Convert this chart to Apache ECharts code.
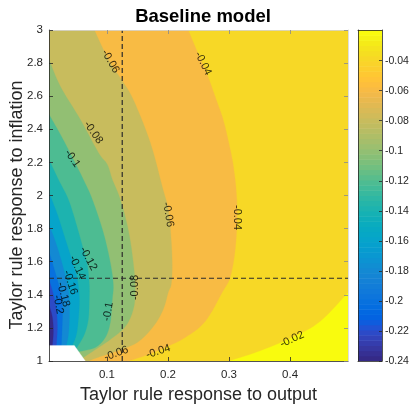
<!DOCTYPE html>
<html><head><meta charset="utf-8">
<script src="https://cdn.jsdelivr.net/npm/echarts@6/dist/echarts.min.js"></script>
<style>html,body{margin:0;padding:0;background:#fff}#c{width:410px;height:404px}</style>
</head><body><div id="c"></div>
<script>
// ---------- data ----------
const xRange = [0.005, 0.495];
const yRange = [1, 3];
const xTicks = [0.1, 0.2, 0.3, 0.4];
const yTicks = [1, 1.2, 1.4, 1.6, 1.8, 2, 2.2, 2.4, 2.6, 2.8, 3];
const cRange = [-0.24, -0.0196];
const cTicks = [-0.24, -0.22, -0.2, -0.18, -0.16, -0.14, -0.12, -0.1, -0.08, -0.06, -0.04];
const levels = [-0.02, -0.04, -0.06, -0.08, -0.1, -0.12, -0.14, -0.16, -0.18, -0.2, -0.22];

const c002 = [[0.2985,1.0],[0.343,1.051],[0.4033,1.142],[0.4491,1.239],[0.495,1.414]];
const c004 = [[0.2331,3.0],[0.2478,2.870],[0.2642,2.731],[0.2789,2.580],[0.2903,2.459],[0.3002,2.308],[0.3067,2.187],[0.3116,2.036],[0.3133,1.873],[0.3100,1.670],[0.3018,1.505],[0.2887,1.414],[0.2609,1.239],[0.2281,1.142],[0.1954,1.082],[0.1627,1.033],[0.1349,1.0]];
const c006 = [[0.0792,3.0],[0.1021,2.822],[0.1234,2.701],[0.1430,2.580],[0.1709,2.320],[0.1905,2.054],[0.2003,1.915],[0.2052,1.731],[0.2069,1.571],[0.2052,1.462],[0.2003,1.414],[0.1921,1.311],[0.1758,1.208],[0.1496,1.112],[0.1136,1.057],[0.0890,1.027],[0.0694,1.0]];
const c008 = [[0.005,2.822],[0.0236,2.659],[0.0563,2.459],[0.0858,2.260],[0.1005,2.187],[0.1087,2.097],[0.1218,1.976],[0.1349,1.792],[0.1430,1.595],[0.1463,1.432],[0.1430,1.311],[0.1300,1.208],[0.1054,1.130],[0.0809,1.069],[0.0612,1.021]];
const c010 = [[0.005,2.489],[0.0236,2.369],[0.0432,2.230],[0.0612,2.097],[0.0759,1.976],[0.0939,1.777],[0.1054,1.595],[0.1103,1.462],[0.1087,1.372],[0.1054,1.233],[0.0972,1.142],[0.0809,1.082],[0.0547,1.057]];
const c012 = [[0.005,2.218],[0.0203,2.097],[0.0367,1.976],[0.0498,1.825],[0.0612,1.674],[0.0678,1.583],[0.0710,1.462],[0.0710,1.372],[0.0694,1.251],[0.0628,1.160],[0.0498,1.076]];
const c014 = [[0.005,2.017],[0.0187,1.885],[0.0318,1.734],[0.0432,1.601],[0.0514,1.492],[0.0547,1.372],[0.0530,1.251],[0.0498,1.160],[0.0432,1.094]];
const c016 = [[0.005,1.825],[0.0170,1.704],[0.0268,1.583],[0.0350,1.462],[0.0383,1.372],[0.0383,1.251],[0.0367,1.160],[0.0334,1.094]];
const c018 = [[0.005,1.659],[0.0137,1.553],[0.0219,1.444],[0.0268,1.341],[0.0268,1.239],[0.0252,1.094]];
const c020 = [[0.005,1.492],[0.0121,1.402],[0.0170,1.311],[0.0187,1.202],[0.0170,1.094]];
const c022 = [[0.005,1.341],[0.0105,1.263],[0.0121,1.178],[0.0105,1.094]];
const contours = [c002, c004, c006, c008, c010, c012, c014, c016, c018, c020, c022];

const nanRegion = [[0.005,1.094],[0.0465,1.094],[0.0645,1.0],[0.005,1.0]];
const refX = 0.125;
const refY = 1.5;

const labelTexts = ['-0.06','-0.04','-0.08','-0.1','-0.06','-0.04','-0.12','-0.14','-0.16','-0.18','-0.2','-0.08','-0.1','-0.06','-0.04','-0.02'];
const labelX = [0.1056,0.2576,0.0776,0.0432,0.2003,0.3133,0.0694,0.0514,0.0399,0.0285,0.0203,0.1463,0.1021,0.1152,0.1839,0.4033];
const labelY = [2.810,2.798,2.380,2.224,1.885,1.867,1.619,1.565,1.474,1.402,1.341,1.444,1.299,1.045,1.057,1.130];

// ---------- style ----------
const labelRot = [-60,-63,-55,-55,-80,-90,-62,-65,-72,-75,-80,90,80,20,18,25];
const parula = ['#352A87','#363093','#3637A0','#353DAD','#3243BA','#2C4AC7','#2053D4','#0F5CDD','#0363E1','#0268E1','#046DE0','#0871DE','#0D75DC','#1079DA','#127DD8','#1481D6','#1485D4','#1389D3','#108ED2','#0C93D2','#0998D1','#079CCF','#06A0CD','#06A4CA','#06A7C6','#07A9C2','#0AACBE','#0FAEB9','#15B1B4','#1DB3AF','#25B5A9','#2EB7A4','#38B99E','#42BB98','#4DBC92','#59BD8C','#65BE86','#71BF80','#7CBF7B','#87BF77','#92BF73','#9CBF6F','#A5BE6B','#AEBE67','#B7BD64','#C0BC60','#C8BC5D','#D1BB59','#D9BA56','#E1B952','#E9B94E','#F1B94A','#F8BB44','#FDBE3D','#FFC337','#FEC832','#FCCE2E','#FAD32A','#F7D826','#F5DE21','#F5E41D','#F5EB18','#F6F313','#F9FB0E'];
const FONT = '"Liberation Sans", Arial, Helvetica, sans-serif';
const TXT = '#262626';

function colorOf(v) {
  const t = (v - cRange[0]) / (cRange[1] - cRange[0]);
  let i = Math.floor(t * parula.length + 1e-9);
  i = Math.max(0, Math.min(parula.length - 1, i));
  return parula[i];
}
const near = (a, b) => Math.abs(a - b) < 1e-6;

// smooth a polyline (pixel space) with Catmull-Rom for drawing only
function smoothPx(p) {
  if (p.length < 3) return p;
  const out = [];
  for (let i = 0; i < p.length - 1; i++) {
    const p0 = p[Math.max(0, i - 1)], p1 = p[i], p2 = p[i + 1], p3 = p[Math.min(p.length - 1, i + 2)];
    for (let s = 0; s < 8; s++) {
      const t = s / 8, t2 = t * t, t3 = t2 * t;
      out.push([0, 1].map(d => 0.5 * ((2 * p1[d]) + (-p0[d] + p2[d]) * t + (2 * p0[d] - 5 * p1[d] + 4 * p2[d] - p3[d]) * t2 + (-p0[d] + 3 * p1[d] - 3 * p2[d] + p3[d]) * t3)));
    }
  }
  out.push(p[p.length - 1]);
  return out;
}

function regionPixels(k, api) {
  if (k < 0) return [[xRange[0], yRange[0]], [xRange[1], yRange[0]], [xRange[1], yRange[1]], [xRange[0], yRange[1]]].map(p => api.coord(p));
  const c = contours[k];
  const first = c[0], last = c[c.length - 1];
  const pts = smoothPx(c.map(p => api.coord(p)));
  const tail = [];
  if (near(last[0], xRange[1])) {
    tail.push([xRange[1], yRange[1]], [xRange[0], yRange[1]], [xRange[0], yRange[0]]);
  } else {
    tail.push([xRange[0], yRange[0]]);
    if (near(first[1], yRange[1])) tail.push([xRange[0], yRange[1]]);
  }
  return pts.concat(tail.map(p => api.coord(p)));
}
function fillColor(k) {
  if (k < 0) return colorOf(levels[0]);
  return colorOf(levels[k] - 0.02);
}

const fillData = [{ value: [xRange[0], yRange[0], -1] }].concat(levels.map((l, k) => ({ value: [xRange[0], yRange[0], k] })));
fillData.push({ value: [xRange[0], yRange[0], 99] });

const labelData = labelTexts.map((t, i) => ({
  value: [labelX[i], labelY[i]],
  label: { rotate: labelRot[i], formatter: t }
}));

const cbData = parula.map((c, i) => ({ value: [0, cRange[0] + i * (cRange[1] - cRange[0]) / parula.length, i] }));

const chart = echarts.init(document.getElementById('c'), null, { renderer: 'canvas' });
chart.setOption({
  animation: false,
  backgroundColor: '#fff',
  textStyle: { fontFamily: FONT },
  title: {
    text: 'Baseline model', left: 198, top: 2, textAlign: 'center',
    textStyle: { fontFamily: FONT, fontSize: 18.5, fontWeight: 'bold', color: '#000' }
  },
  graphic: [{
    type: 'text', x: 17, y: 205, rotation: Math.PI / 2, silent: true,
    style: { text: 'Taylor rule response to inflation', fontFamily: FONT, fontSize: 18, fill: TXT, align: 'center', verticalAlign: 'middle' }
  }],
  grid: [
    { left: 49, right: 62, top: 30, bottom: 43, containLabel: false, outerBoundsMode: 'none' },
    { left: 358, width: 24, top: 30, bottom: 43, containLabel: false, outerBoundsMode: 'none' }
  ],
  xAxis: [
    {
      type: 'value', gridIndex: 0, min: xRange[0], max: xRange[1], z: 5,
      name: 'Taylor rule response to output', nameLocation: 'middle', nameGap: 22,
      nameTextStyle: { fontFamily: FONT, fontSize: 18, color: TXT },
      axisLine: { show: true, onZero: false, lineStyle: { color: TXT, width: 0.8 } },
      axisTick: { show: true, inside: true, length: 4, customValues: xTicks, lineStyle: { color: TXT, width: 0.8 } },
      axisLabel: { customValues: xTicks, fontSize: 11.5, color: TXT, margin: 8, fontFamily: FONT,
        formatter: v => (xTicks.some(t => near(t, v)) ? String(+(+v).toFixed(3)) : '') },
      splitLine: { show: false }
    },
    {
      type: 'value', gridIndex: 0, position: 'top', min: xRange[0], max: xRange[1], z: 5,
      axisLine: { show: true, onZero: false, lineStyle: { color: '#d4d4d4', width: 0.8 } },
      axisTick: { show: true, inside: true, length: 4, customValues: xTicks, lineStyle: { color: '#8a8a8a', width: 0.8 } },
      axisLabel: { show: false }, splitLine: { show: false }
    },
    {
      type: 'value', gridIndex: 1, min: 0, max: 1, z: 5,
      axisLine: { show: true, onZero: false, lineStyle: { color: TXT, width: 0.8 } },
      axisTick: { show: false }, axisLabel: { show: false }, splitLine: { show: false }
    },
    {
      type: 'value', gridIndex: 1, position: 'top', min: 0, max: 1, z: 5,
      axisLine: { show: true, onZero: false, lineStyle: { color: TXT, width: 0.8 } },
      axisTick: { show: false }, axisLabel: { show: false }, splitLine: { show: false }
    }
  ],
  yAxis: [
    {
      type: 'value', gridIndex: 0, min: yRange[0], max: yRange[1], interval: 0.2, z: 5,
      axisLine: { show: true, onZero: false, lineStyle: { color: TXT, width: 0.8 } },
      axisTick: { show: true, inside: true, length: 4, customValues: yTicks, lineStyle: { color: TXT, width: 0.8 } },
      axisLabel: { customValues: yTicks, fontSize: 11.5, color: TXT, margin: 6, fontFamily: FONT,
        formatter: v => String(+(+v).toFixed(3)) },
      splitLine: { show: false }
    },
    {
      type: 'value', gridIndex: 0, position: 'right', min: yRange[0], max: yRange[1], interval: 0.2, z: 5,
      axisLine: { show: true, onZero: false, lineStyle: { color: '#d4d4d4', width: 0.8 } },
      axisTick: { show: true, inside: true, length: 4, customValues: yTicks, lineStyle: { color: '#8a8a8a', width: 0.8 } },
      axisLabel: { show: false }, splitLine: { show: false }
    },
    {
      type: 'value', gridIndex: 1, position: 'right', min: cRange[0], max: cRange[1], interval: 0.02, z: 5,
      axisLine: { show: true, onZero: false, lineStyle: { color: TXT, width: 0.8 } },
      axisTick: { show: true, inside: true, length: 3, customValues: cTicks, lineStyle: { color: TXT, width: 0.8 } },
      axisLabel: { customValues: cTicks, fontSize: 10.5, color: TXT, margin: 3, fontFamily: FONT,
        formatter: v => String(+(+v).toFixed(3)) },
      splitLine: { show: false }
    },
    {
      type: 'value', gridIndex: 1, position: 'left', min: cRange[0], max: cRange[1], z: 5,
      axisLine: { show: true, onZero: false, lineStyle: { color: TXT, width: 0.8 } },
      axisTick: { show: false }, axisLabel: { show: false }, splitLine: { show: false }
    }
  ],
  series: [
    {
      type: 'custom', xAxisIndex: 0, yAxisIndex: 0, silent: true, clip: true, z: 1,
      data: fillData,
      renderItem: function (params, api) {
        const k = api.value(2);
        let pts, fill;
        if (k === 99) { pts = nanRegion.map(p => api.coord(p)); fill = '#ffffff'; }
        else { pts = regionPixels(k, api); fill = fillColor(k); }
        return {
          type: 'polygon',
          shape: { points: pts },
          style: { fill: fill, stroke: fill, lineWidth: 0.3 }
        };
      }
    },
    {
      type: 'line', xAxisIndex: 0, yAxisIndex: 0, silent: true, symbol: 'none', z: 3,
      data: [[refX, yRange[0]], [refX, yRange[1]]],
      lineStyle: { color: '#2b2b2b', width: 1.2, type: [5, 3] }
    },
    {
      type: 'line', xAxisIndex: 0, yAxisIndex: 0, silent: true, symbol: 'none', z: 3,
      data: [[xRange[0], refY], [xRange[1], refY]],
      lineStyle: { color: '#2b2b2b', width: 1.2, type: [5, 3] }
    },
    {
      type: 'scatter', xAxisIndex: 0, yAxisIndex: 0, silent: true, z: 4,
      symbolSize: 1, itemStyle: { color: 'rgba(0,0,0,0)' },
      data: labelData,
      label: { show: true, position: 'inside', fontSize: 11, color: '#000', fontFamily: FONT }
    },
    {
      type: 'custom', xAxisIndex: 2, yAxisIndex: 2, silent: true, clip: true, z: 1,
      data: cbData,
      renderItem: function (params, api) {
        const v0 = api.value(1);
        const v1 = v0 + (cRange[1] - cRange[0]) / parula.length;
        const a = api.coord([0, v1]);
        const b = api.coord([1, v0]);
        return {
          type: 'rect',
          shape: { x: a[0], y: a[1], width: b[0] - a[0], height: b[1] - a[1] + 0.5 },
          style: { fill: parula[api.value(2)] }
        };
      }
    }
  ]
});
</script></body></html>
